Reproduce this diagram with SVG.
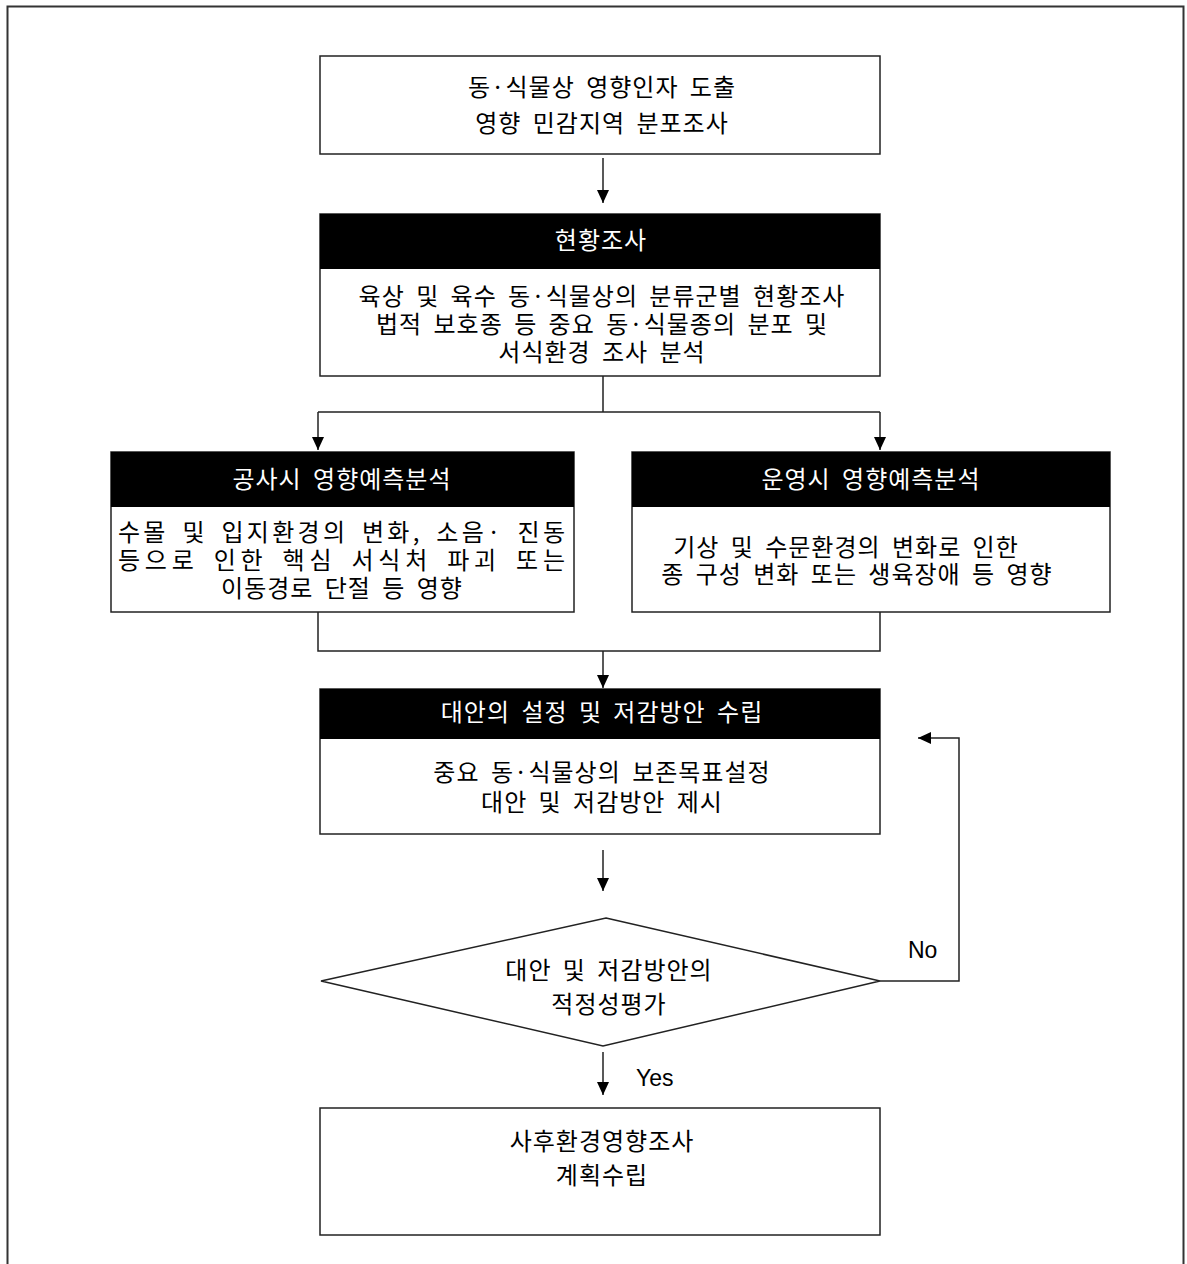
<svg xmlns="http://www.w3.org/2000/svg" width="1187" height="1264" viewBox="0 0 1187 1264">
<style>
.box{fill:#fff;stroke:#222;stroke-width:1.5}
.hdr{fill:#000}
.ln{fill:none;stroke:#222;stroke-width:1.5}
.t{font-family:"Noto Sans CJK KR","Noto Sans",sans-serif;font-size:24px;fill:#000;text-anchor:middle;letter-spacing:1px;word-spacing:5px}
.s{text-anchor:start}
.w{fill:#fff}
.l{font-family:"Liberation Sans",Arial,sans-serif;font-size:23px;fill:#000}
</style>
<defs>
<marker id="ah" markerUnits="userSpaceOnUse" markerWidth="14" markerHeight="12" viewBox="0 0 14 12" refX="13" refY="6" orient="auto">
<path d="M0,0 L13,6 L0,12 Z" fill="#000"/>
</marker>
</defs>
<rect x="7.5" y="6.5" width="1176" height="1300" fill="none" stroke="#333" stroke-width="2"/>
<g id="n1">
<rect class="box" x="320" y="56" width="560" height="98"/>
<text class="t" x="602" y="96">동·식물상 영향인자 도출</text>
<text class="t" x="602" y="132">영향 민감지역 분포조사</text>
</g>
<g id="n2">
<rect class="box" x="320" y="214" width="560" height="162"/>
<rect class="hdr" x="320" y="214" width="560" height="55"/>
<text class="t w" x="601" y="249">현황조사</text>
<text class="t" x="602" y="305">육상 및 육수 동·식물상의 분류군별 현황조사</text>
<text class="t" x="602" y="333">법적 보호종 등 중요 동·식물종의 분포 및</text>
<text class="t" x="602" y="361">서식환경 조사 분석</text>
</g>
<g id="n3">
<rect class="box" x="111" y="452" width="463" height="160"/>
<rect class="hdr" x="111" y="452" width="463" height="55"/>
<text class="t w" x="342" y="488">공사시 영향예측분석</text>
<text class="t s" x="118" y="541" textLength="448" lengthAdjust="spacing">수몰 및 입지환경의 변화, 소음· 진동</text>
<text class="t s" x="118" y="569" textLength="448" lengthAdjust="spacing">등으로 인한 핵심 서식처 파괴 또는</text>
<text class="t" x="342" y="597">이동경로 단절 등 영향</text>
</g>
<g id="n4">
<rect class="box" x="632" y="452" width="478" height="160"/>
<rect class="hdr" x="632" y="452" width="478" height="55"/>
<text class="t w" x="871" y="488">운영시 영향예측분석</text>
<text class="t" x="846" y="556">기상 및 수문환경의 변화로 인한</text>
<text class="t" x="857" y="583">종 구성 변화 또는 생육장애 등 영향</text>
</g>
<g id="n5">
<rect class="box" x="320" y="689" width="560" height="145"/>
<rect class="hdr" x="320" y="689" width="560" height="50"/>
<text class="t w" x="602" y="721">대안의 설정 및 저감방안 수립</text>
<text class="t" x="602" y="781">중요 동·식물상의 보존목표설정</text>
<text class="t" x="602" y="811">대안 및 저감방안 제시</text>
</g>
<g id="n6">
<polygon class="box" points="606,918 880,981 603,1046 321,981"/>
<text class="t" x="609" y="979">대안 및 저감방안의</text>
<text class="t" x="609" y="1013">적정성평가</text>
</g>
<g id="n7">
<rect class="box" x="320" y="1108" width="560" height="127"/>
<text class="t" x="602" y="1150">사후환경영향조사</text>
<text class="t" x="602" y="1184">계획수립</text>
</g>
<g id="connectors">
<line class="ln" x1="603" y1="158" x2="603" y2="203" marker-end="url(#ah)"/>
<path class="ln" d="M603,376 V412 M318,412 H880"/>
<line class="ln" x1="318" y1="412" x2="318" y2="450" marker-end="url(#ah)"/>
<line class="ln" x1="880" y1="412" x2="880" y2="450" marker-end="url(#ah)"/>
<path class="ln" d="M318,612 V651 H880 V612"/>
<line class="ln" x1="603" y1="651" x2="603" y2="688" marker-end="url(#ah)"/>
<line class="ln" x1="603" y1="850" x2="603" y2="891" marker-end="url(#ah)"/>
<line class="ln" x1="603" y1="1052" x2="603" y2="1095" marker-end="url(#ah)"/>
<path class="ln" d="M880,981 H959 V738 H918" marker-end="url(#ah)"/>
<text class="l" x="908" y="958">No</text>
<text class="l" x="636" y="1086">Yes</text>
</g>
</svg>
